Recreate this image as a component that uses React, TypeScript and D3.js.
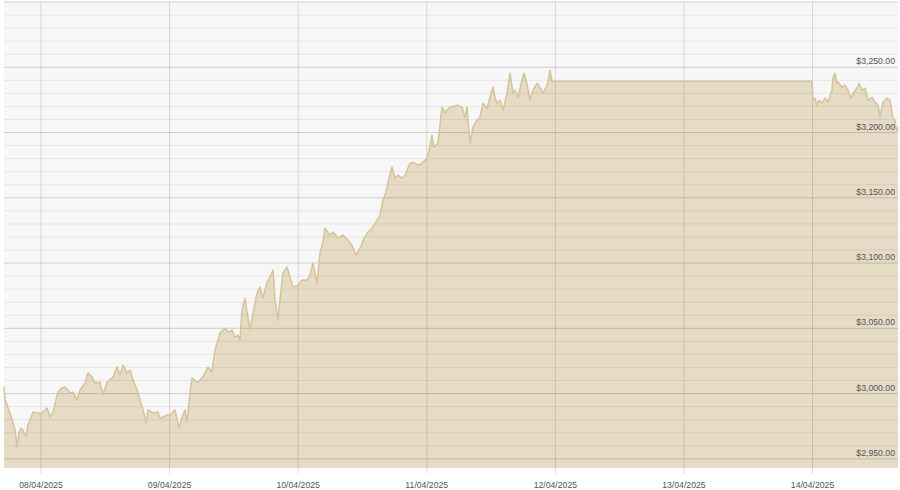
import React from "react";
import * as d3 from "d3";

// Hours relative to 08/04/2025 00:00 (UTC) and gold price in USD
const hours = [
  -6.91, -6.72, -6.35, -5.79, -5.23, -4.85, -4.48, -4.11, -3.73, -3.36, -2.8, -2.43, -2.05, -1.49, -0.75,
  0.19, 1.12, 1.68, 2.24, 2.8, 3.17, 3.92, 4.48, 5.41, 5.97, 6.72, 7.28, 8.21, 8.77, 9.52, 10.08, 11.01,
  11.57, 12.32, 13.44, 14.18, 14.74, 15.3, 16.05, 16.61, 17.17, 17.92, 18.48, 19.04, 19.6, 19.97, 20.9,
  21.84, 22.21, 23.52, 24.08, 25.01, 25.75, 26.31, 26.87, 27.25, 27.81, 28.18, 29.11, 29.67,
  30.23, 31.17, 31.91, 32.47, 33.41, 34.34, 34.9, 35.65, 36.21, 36.77, 37.14, 37.51, 38.07, 38.45, 39.01,
  39.57, 40.31, 40.87, 41.43, 42.18, 42.74, 43.3, 43.67, 44.23, 44.6, 45.16, 45.91, 46.47, 47.03, 47.96,
  48.71, 49.64, 50.2, 50.76, 51.51, 52.07, 52.63, 53.0, 53.94,
  54.5, 55.43, 56.36, 57.3, 58.04, 58.79, 59.54, 60.28, 61.03, 61.77, 62.52, 63.27, 63.83, 64.39, 64.95, 65.51,
  66.07, 66.63, 67.37, 67.93, 68.87, 69.43, 70.36, 71.11, 72.04, 72.6, 72.97, 73.35, 74.09, 74.84, 75.4,
  75.77, 76.33, 77.64, 78.57, 79.13, 79.5, 80.06, 80.62, 81.37, 81.93, 82.49, 83.24, 83.8, 84.36, 84.73,
  85.1, 85.66, 86.22, 86.97, 87.53, 88.09, 88.46, 89.02, 89.77, 90.14, 90.7, 91.26, 91.82, 92.57, 93.13,
  93.69, 94.43, 94.62, 94.99, 95.37,
  143.89, 144.08, 144.45, 144.83, 145.2, 145.76, 146.32, 146.88, 147.63, 147.81, 148.19, 148.56, 148.75,
  149.49, 150.05, 150.61, 151.17, 151.55, 152.29, 152.67, 153.23, 153.79, 154.35, 155.09, 155.65, 156.21,
  156.59, 157.15, 157.89, 158.46, 159.02, 159.39, 159.76, 159.95,
];

const prices = [
  3005.0, 2995.0, 2991.2, 2985.1, 2977.4, 2972.1, 2959.0, 2970.5, 2973.6, 2972.1, 2966.7, 2975.9, 2979.7, 2985.8, 2985.1,
  2985.1, 2988.9, 2982.0, 2985.8, 2995.0, 3001.1, 3004.2, 3005.0, 3000.4, 3001.1, 2995.0, 3002.7, 3008.0, 3015.7, 3012.6, 3008.0, 3008.8,
  2998.9, 3008.8, 3012.6, 3020.3, 3014.2, 3021.8, 3015.7, 3018.0, 3010.3, 3002.7, 2995.0, 2987.4, 2977.4, 2987.4, 2985.1,
  2985.8, 2981.2, 2983.5, 2983.5, 2987.4, 2973.6, 2982.0, 2987.4, 2978.2, 3000.4, 3011.9, 3008.8, 3010.3,
  3012.6, 3020.3, 3016.5, 3033.3, 3046.3, 3050.1, 3047.1, 3048.6, 3043.3, 3044.8, 3041.0, 3063.9, 3073.1, 3062.4, 3048.6,
  3061.6, 3077.0, 3081.5, 3073.1, 3085.4, 3089.2, 3094.6, 3071.6, 3056.3, 3071.6, 3092.3, 3096.9, 3089.2, 3081.5, 3083.1,
  3086.9, 3086.9, 3090.7, 3099.9, 3084.6, 3107.6, 3116.0, 3126.7, 3121.4,
  3123.7, 3119.1, 3121.4, 3117.5, 3113.7, 3106.0, 3111.4, 3119.1, 3123.7, 3126.7, 3131.3, 3136.7, 3148.2, 3154.3, 3165.0, 3173.4,
  3165.0, 3167.3, 3165.0, 3167.3, 3176.5, 3177.3, 3175.0, 3176.5, 3180.3, 3188.7, 3197.9, 3188.7, 3191.8, 3219.4, 3214.8,
  3217.1, 3219.4, 3220.9, 3219.4, 3211.7, 3219.4, 3191.8, 3204.1, 3209.4, 3211.7, 3222.4, 3218.6, 3227.0, 3234.7, 3227.0,
  3222.4, 3224.7, 3217.1, 3230.1, 3245.4, 3230.1, 3232.4, 3227.0, 3240.0, 3245.4, 3237.7, 3224.7, 3232.4, 3237.7, 3234.7,
  3230.1, 3236.2, 3238.5, 3247.7, 3239.3,
  3239.3, 3224.7, 3226.3, 3220.9, 3224.7, 3222.4, 3226.3, 3223.2, 3232.4, 3241.6, 3245.4, 3237.7, 3238.5,
  3234.7, 3236.2, 3232.4, 3226.3, 3230.1, 3233.9, 3237.7, 3232.4, 3233.9, 3224.7, 3227.0, 3223.2, 3220.9,
  3211.7, 3223.2, 3226.3, 3224.7, 3210.9, 3209.4, 3200.2, 3204.1,
];

const yMajorTicks = [2950, 3000, 3050, 3100, 3150, 3200, 3250];
const yGridValues = d3.range(2950, 3301, 10);
const xTickDays = ["2025-04-08", "2025-04-09", "2025-04-10", "2025-04-11", "2025-04-12", "2025-04-13", "2025-04-14"];

const W = 900;
const H = 490;
const left = 4;
const right = 898;
const top = 2;
const bottom = 468;

export default function App() {
  const base = Date.UTC(2025, 3, 8);
  const data = hours.map((h, i) => ({ t: new Date(base + h * 3600e3), v: prices[i] }));

  const x = d3
    .scaleUtc()
    .domain([data[0].t, data[data.length - 1].t])
    .range([left, right]);
  const y = d3.scaleLinear().domain([2943, 3300]).range([bottom, top]);

  const area = d3
    .area<{ t: Date; v: number }>()
    .x((d) => x(d.t))
    .y0(bottom)
    .y1((d) => y(d.v));
  const line = d3
    .line<{ t: Date; v: number }>()
    .x((d) => x(d.t))
    .y((d) => y(d.v));

  const fmtDay = d3.utcFormat("%d/%m/%Y");
  const fmtPrice = (v: number) => "$" + d3.format(",.2f")(v);
  const days = xTickDays.map((s) => new Date(s + "T00:00:00Z"));

  return (
    <svg
      width={W}
      height={H}
      style={{ position: "absolute", left: 0, top: 0, background: "#ffffff" }}
      fontFamily="'Liberation Sans', Arial, sans-serif"
    >
      <rect x={left} y={top} width={right - left} height={bottom - top} fill="#f7f7f7" />
      <path d={area(data) || ""} fill="#e6dcc6" />
      {yGridValues.map((v) => (
        <line
          key={"g" + v}
          x1={left}
          x2={right}
          y1={y(v)}
          y2={y(v)}
          stroke={v % 50 === 0 ? "rgba(0,0,0,0.16)" : "rgba(0,0,0,0.07)"}
          strokeWidth={1}
        />
      ))}
      {days.map((d) => (
        <line
          key={"v" + d.getTime()}
          x1={x(d)}
          x2={x(d)}
          y1={top}
          y2={bottom + 6}
          stroke="rgba(0,0,0,0.12)"
          strokeWidth={1}
        />
      ))}
      <path d={line(data) || ""} fill="none" stroke="#d6c59b" strokeWidth={1.6} strokeLinejoin="round" />
      {yMajorTicks.map((v) => (
        <text key={"t" + v} x={895} y={y(v) - 3} textAnchor="end" fontSize={8.7} fill="#555">
          {fmtPrice(v)}
        </text>
      ))}
      {days.map((d) => (
        <text key={"d" + d.getTime()} x={x(d)} y={488} textAnchor="middle" fontSize={8.7} fill="#555">
          {fmtDay(d)}
        </text>
      ))}
    </svg>
  );
}
